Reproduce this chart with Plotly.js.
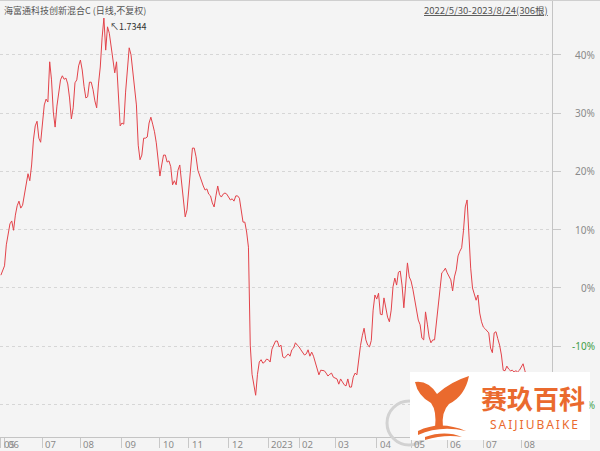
<!DOCTYPE html>
<html><head><meta charset="utf-8">
<script src="https://cdn.plot.ly/plotly-3.0.1.min.js"></script>
<style>html,body{margin:0;padding:0;background:#f4f4f4}#c{width:600px;height:451px}</style>
</head><body><div id="c"></div>
<script>
// ---- data ----
const fundTitle = '海富通科技创新混合C (日线,不复权)';
const rangeText = '2022/5/30-2023/8/24(306根)';
const peakLabel = '↖1.7344';
// daily percentage change vs. base, 306 trading days
const pctValues = [2.2,3.1,3.8,7.4,9.6,11.0,11.5,9.9,12.5,14.1,
14.9,13.7,14.2,16.0,18.5,19.6,18.4,21.1,25.4,27.8,
28.6,25.7,25.0,28.8,31.4,32.4,31.9,38.8,35.7,30.2,
27.6,31.2,34.0,35.7,36.4,35.8,36.0,35.0,32.6,29.0,
30.9,35.2,35.7,38.1,39.1,37.4,34.6,32.6,32.8,35.3,
35.3,34.0,32.1,30.9,35.0,37.9,42.9,46.3,40.8,44.8,
43.7,41.2,39.1,36.9,38.8,34.0,27.8,28.3,28.1,33.6,
38.1,41.2,40.0,37.0,35.2,31.4,24.5,22.0,22.8,25.7,
25.7,25.9,28.3,29.3,28.1,26.8,24.9,22.1,19.2,21.1,
22.8,22.8,21.6,21.8,20.8,17.7,18.4,17.7,20.2,21.1,
17.7,14.9,12.2,13.4,16.8,20.2,24.0,24.0,22.5,20.2,
19.2,18.2,17.5,16.8,17.0,16.1,15.8,14.6,13.9,15.8,
17.5,16.0,15.6,16.1,16.3,16.1,15.6,15.1,15.3,14.9,
15.8,15.8,15.4,13.4,11.3,11.3,9.6,7.0,-9.8,-14.8,
-16.8,-18.4,-14.8,-12.7,-12.3,-12.9,-12.7,-12.2,-12.3,-12.7,
-10.5,-9.8,-9.1,-9.1,-10.1,-9.8,-11.8,-12.0,-11.7,-11.3,
-11.7,-10.6,-10.3,-9.4,-9.8,-10.1,-10.6,-11.0,-11.5,-11.3,
-10.6,-11.7,-11.0,-11.7,-12.9,-13.9,-14.9,-14.1,-14.1,-14.2,
-14.6,-15.1,-14.8,-14.6,-15.3,-15.4,-15.6,-16.5,-15.6,-16.1,
-16.6,-16.8,-15.6,-17.0,-17.0,-15.3,-14.6,-14.9,-12.2,-9.9,
-8.2,-6.9,-8.9,-9.8,-10.1,-9.0,-3.8,-1.2,-1.9,-0.9,
-4.5,-4.6,-1.7,-3.1,-5.0,-5.8,-3.8,0.2,1.7,0.5,
2.7,2.9,0.5,-3.4,1.4,4.3,1.9,1.2,-0.2,-2.1,
-3.8,-5.5,-6.3,-8.6,-8.9,-4.1,-6.2,-8.4,-9.4,-8.9,
-8.9,-6.0,-2.6,0.7,2.6,2.9,3.4,2.6,1.9,1.4,
-0.5,1.9,3.1,5.5,6.3,6.9,9.8,13.9,15.1,9.1,
3.4,0.0,-1.0,-2.1,-1.2,-4.3,-5.8,-6.7,-7.0,-7.4,
-7.7,-10.3,-11.1,-7.7,-7.5,-8.7,-9.8,-11.5,-14.1,-14.2,
-13.4,-13.9,-14.2,-14.1,-14.4,-14.2,-14.4,-14.1,-13.4,-13.0,
-14.2,-15.4,-15.8,-16.2,-15.5,-16.5,-17.0,-16.3,-16.8,-17.5,
-17.2,-16.6,-17.8,-18.0,-17.4,-17.6];
// month ticks: first trading day index of each month
const monthTickIdx = [0,2,23,44,67,88,104,126,148,165,185,208,227,247,267,288];
const monthTickText = ['05','06','07','08','09','10','11','12','2023','02','03','04','05','06','07','08'];
const yTickVals = [40,30,20,10,0,-10,-20];
const yTickText = ['40%','30%','20%','10%','0%','-10%','-20%'];

// ---- drawing ----
const W = 600, H = 451, PL = 0, PR = 552, PT = 0, PB = 437;
const xIdx = pctValues.map((_, i) => i);
const peakIdx = pctValues.indexOf(Math.max(...pctValues));
const px = x => (x - PL) / (PR - PL);
const py = y => (PB - y) / (PB - PT);
function pathFrom(cmds) {
  return cmds.map(c => typeof c === 'string' ? c : (px(c[0]).toFixed(4) + ',' + py(c[1]).toFixed(4))).join(' ');
}
const orange = '#ea6a2e';
const shapes = [
  {type:'line', xref:'paper', yref:'paper', x0:0, x1:W/PR, y0:py(0.5), y1:py(0.5), line:{color:'#cfcfcf', width:1}},
  {type:'circle', xref:'paper', yref:'paper', x0:px(387), x1:px(431), y0:py(401), y1:py(445), line:{color:'#d2d2d2', width:3}},
  {type:'rect', xref:'paper', yref:'paper', x0:px(410), x1:px(590), y0:py(372), y1:py(440), fillcolor:'#ffffff', line:{width:0}},
  {type:'path', xref:'paper', yref:'paper', fillcolor:orange, line:{width:0},
   path: pathFrom(['M',[415,382],'Q',[428,380],[437,394],'Q',[450,382],[469,376],'Q',[465,396],[449,404],'Q',[441,412],[443,428],'L',[435,428],'Q',[437,411],[431,403],'Q',[418,396],[415,382],'Z'])},
  {type:'path', xref:'paper', yref:'paper', fillcolor:orange, line:{width:0},
   path: pathFrom(['M',[418,431],'Q',[440,420],[466,431],'Q',[440,425],[418,435],'Z'])},
  {type:'path', xref:'paper', yref:'paper', fillcolor:orange, line:{width:0},
   path: pathFrom(['M',[425,437],'Q',[445,430],[462,437],'Q',[445,434],[425,440],'Z'])}
];
const annotations = [
  {xref:'paper', yref:'paper', x:px(2), y:py(10), xanchor:'left', yanchor:'middle', showarrow:false,
   text: fundTitle, font:{family:'Noto Sans CJK SC', size:9, color:'#555'}},
  {xref:'paper', yref:'paper', x:px(550), y:py(10), xanchor:'right', yanchor:'middle', showarrow:false,
   text: '<u>' + rangeText + '</u>', font:{family:'Noto Sans CJK SC', size:9.5, color:'#555'}},
  {xref:'x', yref:'y', x:peakIdx, y:pctValues[peakIdx], xanchor:'left', yanchor:'top', xshift:4, yshift:0, showarrow:false,
   text: peakLabel, font:{family:'Noto Sans CJK SC', size:9, color:'#333'}}
];
monthTickIdx.forEach((v, i) => {
  annotations.push({xref:'x', yref:'paper', x:v, y:py(444), xanchor:'left', yanchor:'middle', xshift:1, showarrow:false,
    text: monthTickText[i], font:{family:'Noto Sans', size:9.5, color:'#8a8a8a'}});
});
yTickVals.forEach((v, i) => {
  annotations.push({xref:'paper', yref:'y', x:1, y:v, xanchor:'right', yanchor:'middle', xshift:45, showarrow:false,
    text: yTickText[i], font:{family:'Noto Sans', size:10, color: v < 0 ? '#3f9e48' : '#8a8a8a'}});
});
// watermark patch that hides the part of the -20% label under the white box
annotations.push({xref:'paper', yref:'paper', x:px(590), y:py(405), xanchor:'right', yanchor:'middle', showarrow:false,
  text:' ', width:34, height:22, bgcolor:'#ffffff', borderpad:0});
annotations.push({xref:'paper', yref:'paper', x:px(533), y:py(397), xanchor:'center', yanchor:'middle', showarrow:false,
  text:'<b>赛玖百科</b>', font:{family:'Noto Sans CJK SC', size:26, color:orange}});
annotations.push({xref:'paper', yref:'paper', x:px(534), y:py(424), xanchor:'center', yanchor:'middle', showarrow:false,
  text:'S\u2009A\u2009I\u2009J\u2009I\u2009U\u2009B\u2009A\u2009I\u2009K\u2009E', font:{family:'Noto Sans', size:12, color:orange}});

const layout = {
  width: W, height: H,
  margin: {l: PL, r: W - PR, t: PT, b: H - PB, pad: 0},
  paper_bgcolor: '#f4f4f4', plot_bgcolor: '#f4f4f4',
  showlegend: false,
  xaxis: {range: [-0.5, 305], showgrid: false, zeroline: false, showline: true, linecolor: '#c4c4c4', linewidth: 1,
    tickmode: 'array', tickvals: monthTickIdx, ticks: 'outside', ticklen: 10, tickcolor: '#c8c8c8',
    showticklabels: false, fixedrange: true},
  yaxis: {range: [-25.56, 49.4], side: 'right', showline: true, linecolor: '#c4c4c4', linewidth: 1, zeroline: false,
    tickmode: 'array', tickvals: yTickVals, showticklabels: false, ticks: 'outside', ticklen: 8, tickcolor: '#c8c8c8',
    showgrid: true, gridcolor: '#d6d6d6', griddash: 'dot', gridwidth: 1, fixedrange: true},
  shapes: shapes,
  annotations: annotations
};
const trace = {x: xIdx, y: pctValues, type: 'scatter', mode: 'lines', line: {color: '#e3434a', width: 1}, hoverinfo: 'skip'};
Plotly.newPlot('c', [trace], layout, {staticPlot: true, displayModeBar: false});
</script></body></html>
